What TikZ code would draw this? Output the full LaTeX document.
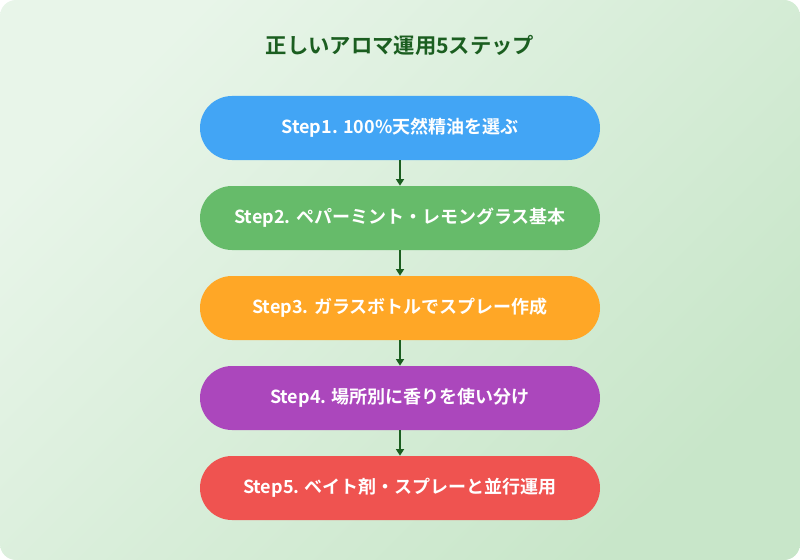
\documentclass[tikz,border=0pt]{standalone}
\usepackage{fontspec}
\setmainfont{Noto Sans CJK JP}[BoldFont={Noto Sans CJK JP Bold}]
\usetikzlibrary{arrows.meta}
\definecolor{bgA}{HTML}{E8F5E9}
\definecolor{bgB}{HTML}{C8E6C9}
\definecolor{ttl}{HTML}{1B5E20}
\definecolor{c1}{HTML}{42A5F5}
\definecolor{c2}{HTML}{66BB6A}
\definecolor{c3}{HTML}{FFA726}
\definecolor{c4}{HTML}{AB47BC}
\definecolor{c5}{HTML}{EF5350}
\begin{document}
\begin{tikzpicture}[x=0.75pt,y=-0.75pt,
 stepbox/.style={rounded corners=24pt,minimum width=300pt,minimum height=48pt,text=white,font=\bfseries\fontsize{13.5}{16}\selectfont,inner sep=0pt},
 arr/.style={ttl,line width=1.5pt,-{Triangle[length=5pt,width=6pt]}}]
\useasboundingbox (0,0) rectangle (800,560);
\shade[left color=bgA,right color=bgB,rounded corners=12pt,shading angle=45] (0,0) rectangle (800,560);
\node[text=ttl,font=\bfseries\fontsize{16}{19}\selectfont] (t) at (400,45) {正しいアロマ運用5ステップ};
\node[stepbox,fill=c1] (s1) at (400,128) {Step1. 100\%天然精油を選ぶ};
\node[stepbox,fill=c2] (s2) at (400,218) {Step2. ペパーミント・レモングラス基本};
\node[stepbox,fill=c3] (s3) at (400,308) {Step3. ガラスボトルでスプレー作成};
\node[stepbox,fill=c4] (s4) at (400,398) {Step4. 場所別に香りを使い分け};
\node[stepbox,fill=c5] (s5) at (400,488) {Step5. ベイト剤・スプレーと並行運用};
\foreach \a/\b in {s1/s2,s2/s3,s3/s4,s4/s5} \draw[arr] (\a.south) -- (\b.north);
\end{tikzpicture}
\end{document}
